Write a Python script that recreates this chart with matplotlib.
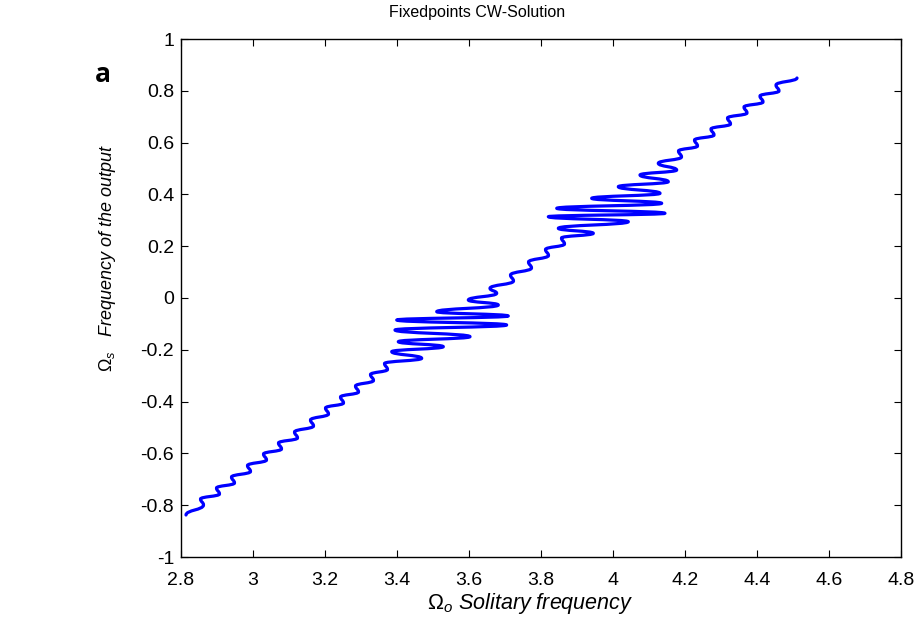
import matplotlib
matplotlib.use("Agg")
import matplotlib.pyplot as plt
from matplotlib.path import Path
from matplotlib.patches import PathPatch
import numpy as np

# ---- data: turning points of the curve (x = Omega_o, y = Omega_s) ----
lower_x = [2.8139, 2.8625, 2.8542, 2.9069, 2.8986, 2.9486, 2.9403, 2.9931, 2.9847,
           3.0375, 3.0292, 3.0792, 3.0708, 3.1236, 3.1153, 3.1681, 3.1597, 3.2097,
           3.2014, 3.2514, 3.2431, 3.2931, 3.2847, 3.3347, 3.3264, 3.3736, 3.3653]
lower_y = [-0.8378, -0.7992, -0.7761, -0.7568, -0.7336, -0.7143, -0.6911, -0.6699, -0.6467,
           -0.6255, -0.6023, -0.5830, -0.5598, -0.5405, -0.5174, -0.4942, -0.4710, -0.4479,
           -0.4247, -0.4054, -0.3822, -0.3629, -0.3398, -0.3185, -0.2954, -0.2761, -0.2529]

zig1_x = [3.4686, 3.3853, 3.5286, 3.4036, 3.6028, 3.3944, 3.7047, 3.3992, 3.7092,
          3.5103, 3.6814, 3.5981, 3.6769, 3.6583]
zig1_y = [-0.2328, -0.2073, -0.1880, -0.1687, -0.1494, -0.1236, -0.1042, -0.0849, -0.0695,
          -0.0529, -0.0270, -0.0077, 0.0181, 0.0375]

mid_x = [3.7236, 3.7153, 3.7736, 3.7653, 3.8208, 3.8125, 3.8653, 3.8569]
mid_y = [0.0656, 0.0888, 0.1158, 0.1390, 0.1641, 0.1873, 0.2085, 0.2317]

zig2_x = [3.9453, 3.8481, 4.0425, 3.8203, 4.1444, 3.8436, 4.1353, 3.9408, 4.1306,
          4.0147, 4.1536, 4.0750, 4.1769, 4.1258]
zig2_y = [0.2498, 0.2691, 0.2946, 0.3139, 0.3270, 0.3463, 0.3656, 0.3849, 0.4042,
          0.4297, 0.4490, 0.4749, 0.4942, 0.5201]

upper_x = [4.1903, 4.1819, 4.2347, 4.2264, 4.2806, 4.2722, 4.3264, 4.3181, 4.3722,
           4.3639, 4.4167, 4.4083, 4.4611, 4.4528, 4.5111]
upper_y = [0.5444, 0.5676, 0.5869, 0.6100, 0.6293, 0.6525, 0.6718, 0.6950, 0.7143,
           0.7375, 0.7568, 0.7799, 0.7992, 0.8224, 0.8494]

x_ticks = [2.8, 3, 3.2, 3.4, 3.6, 3.8, 4, 4.2, 4.4, 4.6, 4.8]
y_ticks = [-1, -0.8, -0.6, -0.4, -0.2, 0, 0.2, 0.4, 0.6, 0.8, 1]

# ---- figure ----
plt.rcParams['font.family'] = ['Liberation Sans', 'DejaVu Sans']
plt.rcParams['mathtext.fontset'] = 'custom'
plt.rcParams['mathtext.rm'] = 'Liberation Sans'
plt.rcParams['mathtext.it'] = 'Liberation Sans:italic'

fig = plt.figure(figsize=(9.17, 6.22), dpi=100)
ax = fig.add_axes([181/917, 65/622, 720/917, 518/622])

tx = np.array(lower_x + zig1_x + mid_x + zig2_x + upper_x)
ty = np.array(lower_y + zig1_y + mid_y + zig2_y + upper_y)

# smooth path through the turning points (vertical tangents at each x-extreme)
verts = [(tx[0], ty[0])]
codes = [Path.MOVETO]
c = 0.5
for i in range(1, len(tx)):
    dy = ty[i] - ty[i-1]
    verts += [(tx[i-1], ty[i-1] + c*dy), (tx[i], ty[i] - c*dy), (tx[i], ty[i])]
    codes += [Path.CURVE4]*3
patch = PathPatch(Path(verts, codes), fill=False, edgecolor=(0, 0, 1),
                  lw=2.3, capstyle='round', joinstyle='round')
ax.add_patch(patch)

ax.set_xlim(2.8, 4.8)
ax.set_ylim(-1, 1)
ax.set_xticks(x_ticks)
ax.set_xticklabels([f"{v:g}" for v in x_ticks])
ax.set_yticks(y_ticks)
ax.set_yticklabels([f"{v:g}" for v in y_ticks])
ax.tick_params(direction='in', length=5, width=0.8, top=True, right=True,
               labelsize=14)
ax.tick_params(axis='x', pad=11)
ax.tick_params(axis='y', pad=5)
for s in ax.spines.values():
    s.set_linewidth(1.0)

fig.text(477/917, 1 - 12/622, "Fixedpoints CW-Solution", ha='center', va='center',
         fontsize=11.5)
fig.text(530/917, 1 - 603/622, r"$\mathit{\Omega_o}$ Solitary frequency", ha='center',
         va='center', fontsize=15.5, style='italic')
fig.text(108/917, 1 - 258/622, r"$\mathit{\Omega_s}$   Frequency of the output",
         ha='center', va='center', fontsize=13, style='italic', rotation=90)
fig.text(103/917, 1 - 75/622, "a", ha='center', va='center', fontsize=19,
         fontweight='bold', family=['Open Sans', 'DejaVu Sans'])

fig.savefig("out.png", dpi=100)
